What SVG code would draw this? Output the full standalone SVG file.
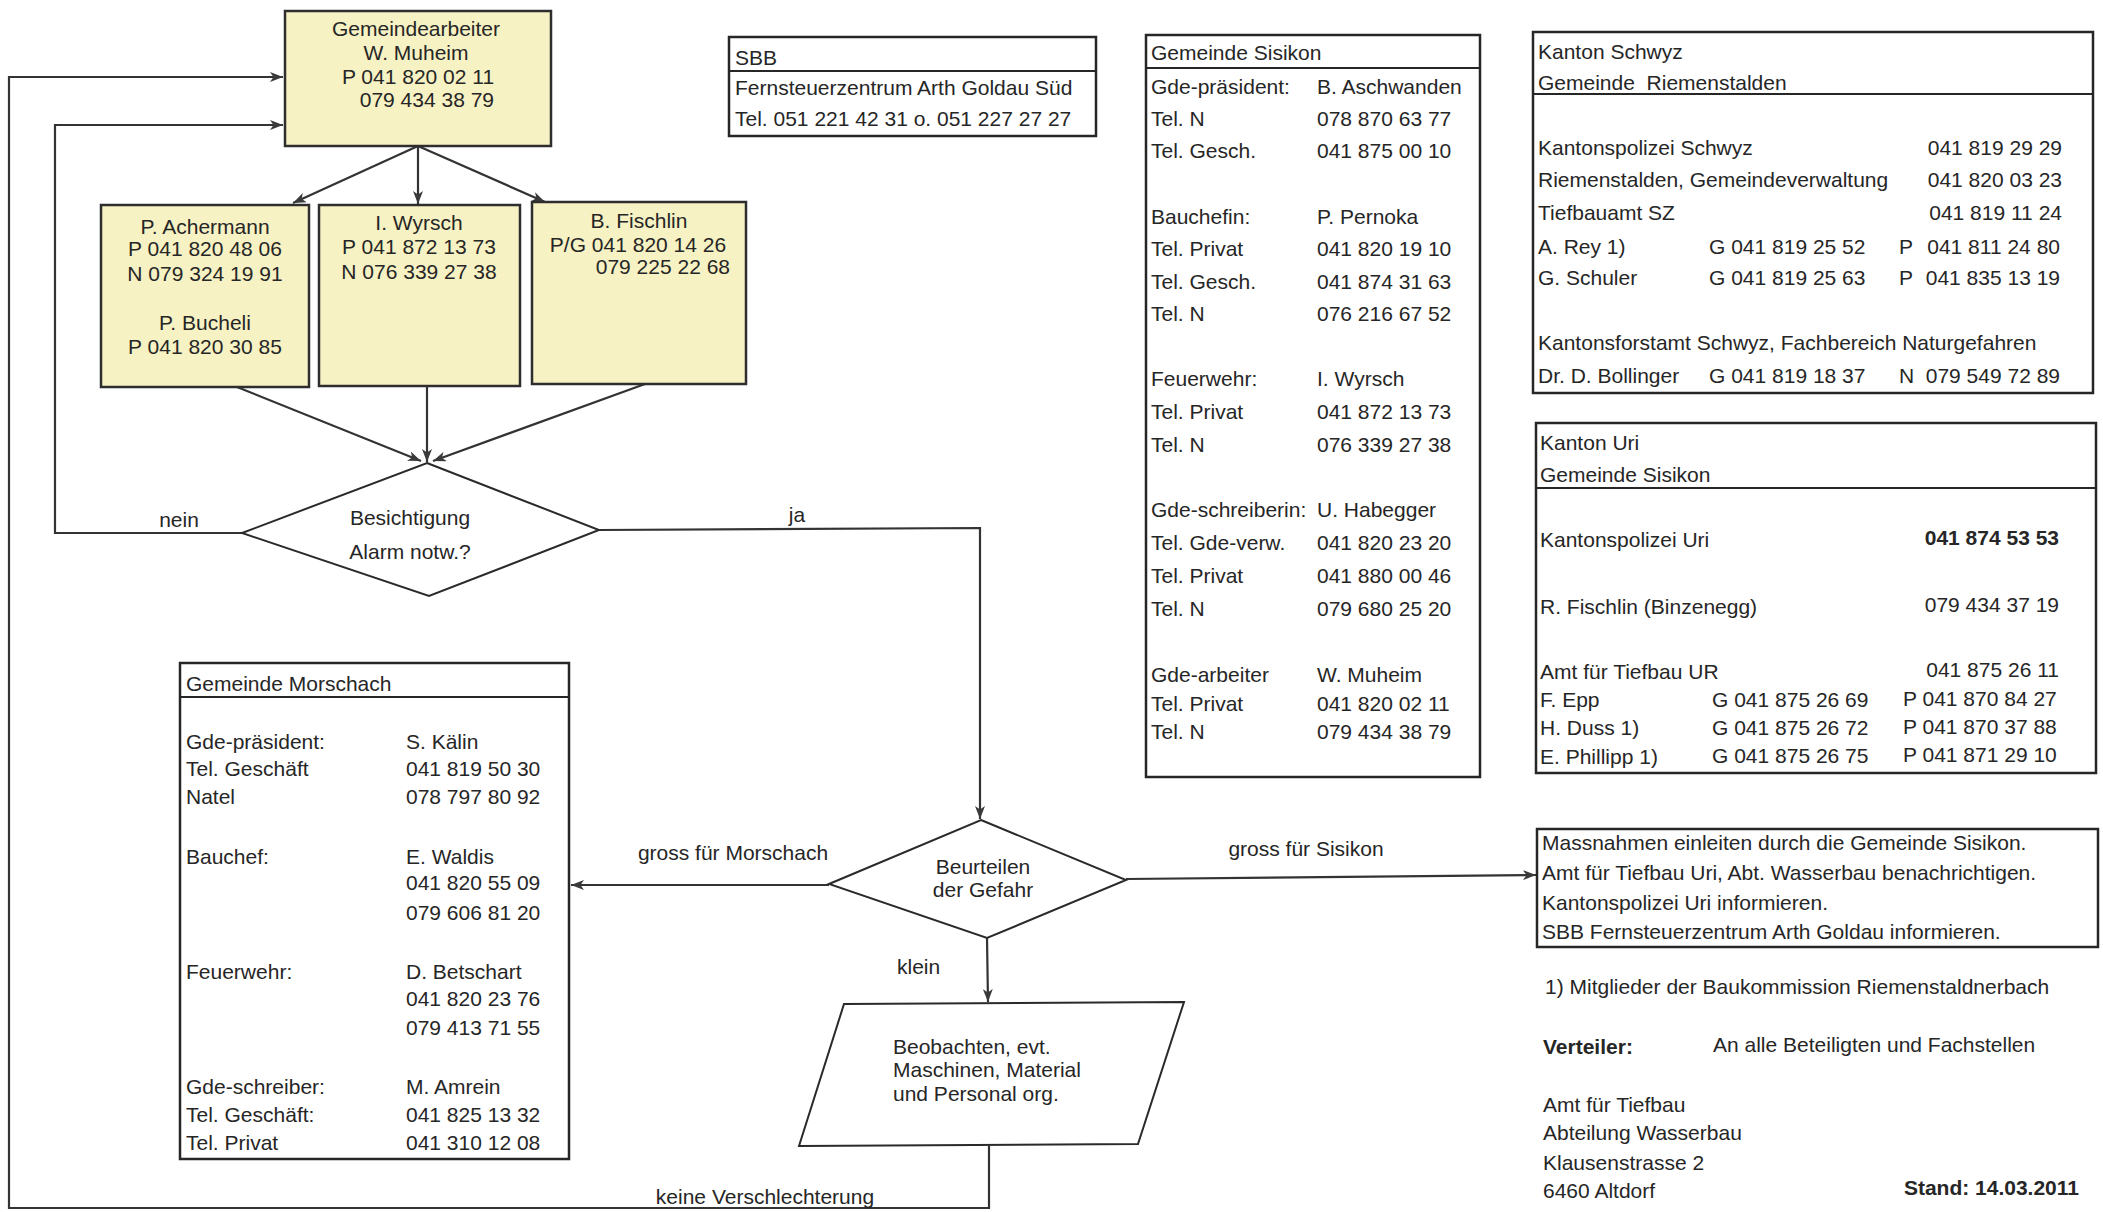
<svg xmlns="http://www.w3.org/2000/svg" width="2103" height="1212" viewBox="0 0 2103 1212">
<style>
text{font-family:"Liberation Sans",Arial,sans-serif;font-size:21px;fill:#262626}
.c{text-anchor:middle}
.e{text-anchor:end}
.b{font-weight:bold}
.pre{white-space:pre}
.box{fill:#fff;stroke:#262626;stroke-width:2.5}
.yel{fill:#f7f2c3;stroke:#2e2e2e;stroke-width:2.5}
.shape{fill:#fff;stroke:#2a2a2a;stroke-width:2}
.ln{stroke:#262626;stroke-width:2}
.con{fill:none;stroke:#333;stroke-width:2.2;marker-end:url(#arr)}
</style>
<defs>
<marker id="arr" markerUnits="userSpaceOnUse" markerWidth="14" markerHeight="10" refX="13" refY="5" orient="auto">
<path d="M0,0 L13,5 L0,10 L3.5,5 z" fill="#3a3a3a"/>
</marker>
</defs>
<rect width="2103" height="1212" fill="#fff"/>

<g id="connectors">
<line class="con" x1="418" y1="146" x2="293" y2="203"/>
<line class="con" x1="418" y1="146" x2="418" y2="204"/>
<line class="con" x1="418" y1="146" x2="545" y2="202"/>
<line class="con" x1="237" y1="387" x2="421" y2="461"/>
<line class="con" x1="427" y1="387" x2="427" y2="462"/>
<line class="con" x1="645" y1="384" x2="433" y2="461"/>
<polyline class="con" points="242,533 55,533 55,125 283,125"/>
<polyline class="con" points="599,530 980,528 980,819"/>
<polyline class="con" points="989,1146 989,1208 9,1208 9,77 283,77"/>
<line class="con" x1="829" y1="885" x2="571" y2="885"/>
<line class="con" x1="987" y1="938" x2="988" y2="1002"/>
<line class="con" x1="1126" y1="879" x2="1536" y2="875"/>
<text class="c" x="179" y="527">nein</text>
<text class="c" x="797" y="522">ja</text>
<text class="c" x="733" y="860">gross für Morschach</text>
<text class="c" x="1306" y="856">gross für Sisikon</text>
<text x="897" y="974">klein</text>
<text class="c" x="765" y="1204">keine Verschlechterung</text>
</g>

<g id="gemeindearbeiter">
<rect class="yel" x="285" y="11" width="266" height="135"/>
<text class="c" x="416" y="36">Gemeindearbeiter</text>
<text class="c" x="416" y="60">W. Muheim</text>
<text class="c" x="418" y="84">P 041 820 02 11</text>
<text class="e" x="494" y="107">079 434 38 79</text>
</g>

<g id="achermann">
<rect class="yel" x="101" y="205" width="208" height="182"/>
<text class="c" x="205" y="234">P. Achermann</text>
<text class="c" x="205" y="256">P 041 820 48 06</text>
<text class="c" x="205" y="281">N 079 324 19 91</text>
<text class="c" x="205" y="330">P. Bucheli</text>
<text class="c" x="205" y="354">P 041 820 30 85</text>
</g>

<g id="wyrsch">
<rect class="yel" x="319" y="205" width="201" height="181"/>
<text class="c" x="419" y="230">I. Wyrsch</text>
<text class="c" x="419" y="254">P 041 872 13 73</text>
<text class="c" x="419" y="279">N 076 339 27 38</text>
</g>

<g id="fischlin">
<rect class="yel" x="532" y="202" width="214" height="182"/>
<text class="c" x="639" y="228">B. Fischlin</text>
<text class="c" x="638" y="252">P/G 041 820 14 26</text>
<text class="e" x="730" y="274">079 225 22 68</text>
</g>

<g id="besichtigung">
<polygon class="shape" points="427,463 599,530 429,596 242,533"/>
<text class="c" x="410" y="525">Besichtigung</text>
<text class="c" x="410" y="559">Alarm notw.?</text>
</g>

<g id="beurteilen">
<polygon class="shape" points="981,820 1126,880 987,938 829,884"/>
<text class="c" x="983" y="874">Beurteilen</text>
<text class="c" x="983" y="897">der Gefahr</text>
</g>

<g id="beobachten">
<polygon class="shape" points="844,1004 1184,1002 1138,1144 799,1146"/>
<text x="893" y="1054">Beobachten, evt.</text>
<text x="893" y="1077">Maschinen, Material</text>
<text x="893" y="1101">und Personal org.</text>
</g>

<g id="morschach">
<rect class="box" x="180" y="663" width="389" height="496"/>
<line class="ln" x1="180" y1="697" x2="569" y2="697"/>
<text x="186" y="691">Gemeinde Morschach</text>
<text x="186" y="749">Gde-präsident:</text><text x="406" y="749">S. Kälin</text>
<text x="186" y="776">Tel. Geschäft</text><text x="406" y="776">041 819 50 30</text>
<text x="186" y="804">Natel</text><text x="406" y="804">078 797 80 92</text>
<text x="186" y="864">Bauchef:</text><text x="406" y="864">E. Waldis</text>
<text x="406" y="890">041 820 55 09</text>
<text x="406" y="920">079 606 81 20</text>
<text x="186" y="979">Feuerwehr:</text><text x="406" y="979">D. Betschart</text>
<text x="406" y="1006">041 820 23 76</text>
<text x="406" y="1035">079 413 71 55</text>
<text x="186" y="1094">Gde-schreiber:</text><text x="406" y="1094">M. Amrein</text>
<text x="186" y="1122">Tel. Geschäft:</text><text x="406" y="1122">041 825 13 32</text>
<text x="186" y="1150">Tel. Privat</text><text x="406" y="1150">041 310 12 08</text>
</g>

<g id="sbb">
<rect class="box" x="729" y="37" width="367" height="99"/>
<line class="ln" x1="729" y1="71" x2="1096" y2="71"/>
<text x="735" y="65">SBB</text>
<text x="735" y="95">Fernsteuerzentrum Arth Goldau Süd</text>
<text x="735" y="126">Tel. 051 221 42 31 o. 051 227 27 27</text>
</g>

<g id="sisikon">
<rect class="box" x="1146" y="35" width="334" height="742"/>
<line class="ln" x1="1146" y1="68" x2="1480" y2="68"/>
<text x="1151" y="60">Gemeinde Sisikon</text>
<text x="1151" y="94">Gde-präsident:</text><text x="1317" y="94">B. Aschwanden</text>
<text x="1151" y="126">Tel. N</text><text x="1317" y="126">078 870 63 77</text>
<text x="1151" y="158">Tel. Gesch.</text><text x="1317" y="158">041 875 00 10</text>
<text x="1151" y="224">Bauchefin:</text><text x="1317" y="224">P. Pernoka</text>
<text x="1151" y="256">Tel. Privat</text><text x="1317" y="256">041 820 19 10</text>
<text x="1151" y="289">Tel. Gesch.</text><text x="1317" y="289">041 874 31 63</text>
<text x="1151" y="321">Tel. N</text><text x="1317" y="321">076 216 67 52</text>
<text x="1151" y="386">Feuerwehr:</text><text x="1317" y="386">I. Wyrsch</text>
<text x="1151" y="419">Tel. Privat</text><text x="1317" y="419">041 872 13 73</text>
<text x="1151" y="452">Tel. N</text><text x="1317" y="452">076 339 27 38</text>
<text x="1151" y="517">Gde-schreiberin:</text><text x="1317" y="517">U. Habegger</text>
<text x="1151" y="550">Tel. Gde-verw.</text><text x="1317" y="550">041 820 23 20</text>
<text x="1151" y="583">Tel. Privat</text><text x="1317" y="583">041 880 00 46</text>
<text x="1151" y="616">Tel. N</text><text x="1317" y="616">079 680 25 20</text>
<text x="1151" y="682">Gde-arbeiter</text><text x="1317" y="682">W. Muheim</text>
<text x="1151" y="711">Tel. Privat</text><text x="1317" y="711">041 820 02 11</text>
<text x="1151" y="739">Tel. N</text><text x="1317" y="739">079 434 38 79</text>
</g>

<g id="schwyz">
<rect class="box" x="1533" y="32" width="560" height="361"/>
<line class="ln" x1="1533" y1="94" x2="2093" y2="94"/>
<text x="1538" y="59">Kanton Schwyz</text>
<text class="pre" x="1538" y="90">Gemeinde  Riemenstalden</text>
<text x="1538" y="155">Kantonspolizei Schwyz</text><text class="e" x="2062" y="155">041 819 29 29</text>
<text x="1538" y="187">Riemenstalden, Gemeindeverwaltung</text><text class="e" x="2062" y="187">041 820 03 23</text>
<text x="1538" y="220">Tiefbauamt SZ</text><text class="e" x="2062" y="220">041 819 11 24</text>
<text x="1538" y="254">A. Rey 1)</text><text x="1709" y="254">G 041 819 25 52</text><text x="1899" y="254">P</text><text class="e" x="2060" y="254">041 811 24 80</text>
<text x="1538" y="285">G. Schuler</text><text x="1709" y="285">G 041 819 25 63</text><text x="1899" y="285">P</text><text class="e" x="2060" y="285">041 835 13 19</text>
<text x="1538" y="350">Kantonsforstamt Schwyz, Fachbereich Naturgefahren</text>
<text x="1538" y="383">Dr. D. Bollinger</text><text x="1709" y="383">G 041 819 18 37</text><text x="1899" y="383">N</text><text class="e" x="2060" y="383">079 549 72 89</text>
</g>

<g id="uri">
<rect class="box" x="1536" y="423" width="560" height="350"/>
<line class="ln" x1="1536" y1="488" x2="2096" y2="488"/>
<text x="1540" y="450">Kanton Uri</text>
<text x="1540" y="482">Gemeinde Sisikon</text>
<text x="1540" y="547">Kantonspolizei Uri</text><text class="e b" x="2059" y="545">041 874 53 53</text>
<text x="1540" y="614">R. Fischlin (Binzenegg)</text><text class="e" x="2059" y="612">079 434 37 19</text>
<text x="1540" y="679">Amt für Tiefbau UR</text><text class="e" x="2059" y="677">041 875 26 11</text>
<text x="1540" y="707">F. Epp</text><text x="1712" y="707">G 041 875 26 69</text><text x="1903" y="706">P 041 870 84 27</text>
<text x="1540" y="735">H. Duss 1)</text><text x="1712" y="735">G 041 875 26 72</text><text x="1903" y="734">P 041 870 37 88</text>
<text x="1540" y="764">E. Phillipp 1)</text><text x="1712" y="763">G 041 875 26 75</text><text x="1903" y="762">P 041 871 29 10</text>
</g>

<g id="massnahmen">
<rect class="box" x="1537" y="829" width="561" height="118"/>
<text x="1542" y="850">Massnahmen einleiten durch die Gemeinde Sisikon.</text>
<text x="1542" y="880">Amt für Tiefbau Uri, Abt. Wasserbau benachrichtigen.</text>
<text x="1542" y="910">Kantonspolizei Uri informieren.</text>
<text x="1542" y="939">SBB Fernsteuerzentrum Arth Goldau informieren.</text>
</g>

<g id="notes">
<text x="1545" y="994">1) Mitglieder der Baukommission Riemenstaldnerbach</text>
<text class="b" x="1543" y="1054">Verteiler:</text>
<text x="1713" y="1052">An alle Beteiligten und Fachstellen</text>
<text x="1543" y="1112">Amt für Tiefbau</text>
<text x="1543" y="1140">Abteilung Wasserbau</text>
<text x="1543" y="1170">Klausenstrasse 2</text>
<text x="1543" y="1198">6460 Altdorf</text>
<text class="e b" x="2079" y="1195">Stand: 14.03.2011</text>
</g>
</svg>
